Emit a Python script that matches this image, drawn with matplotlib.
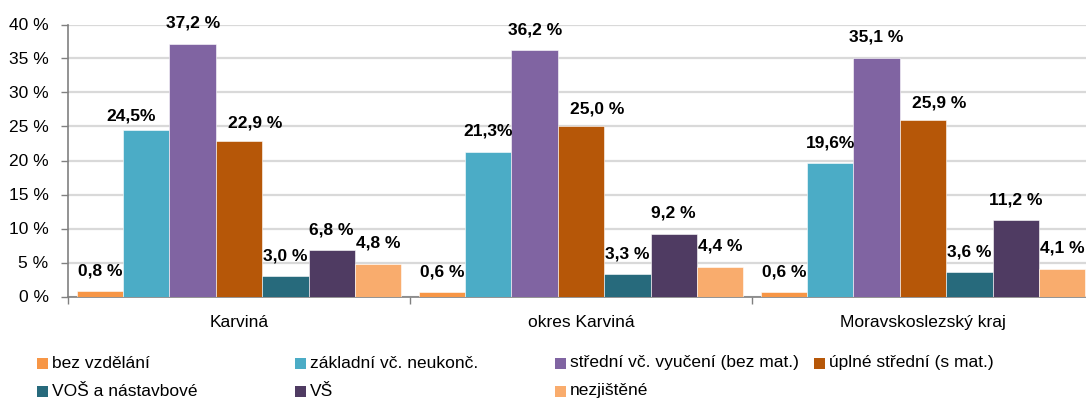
import matplotlib
matplotlib.use("Agg")
import matplotlib.pyplot as plt
from matplotlib.patches import Rectangle

plt.rcParams['font.family'] = ['Liberation Sans', 'DejaVu Sans']

# data
categories = ["Karviná", "okres Karviná", "Moravskoslezský kraj"]
series_names = ["bez vzdělání", "základní vč. neukonč.", "střední vč. vyučení (bez mat.)",
                "úplné střední (s mat.)", "VOŠ a nástavbové", "VŠ", "nezjištěné"]
values = [
    [0.8, 24.5, 37.2, 22.9, 3.0, 6.8, 4.8],
    [0.6, 21.3, 36.2, 25.0, 3.3, 9.2, 4.4],
    [0.6, 19.6, 35.1, 25.9, 3.6, 11.2, 4.1],
]
value_labels = [
    ["0,8 %", "24,5%", "37,2 %", "22,9 %", "3,0 %", "6,8 %", "4,8 %"],
    ["0,6 %", "21,3%", "36,2 %", "25,0 %", "3,3 %", "9,2 %", "4,4 %"],
    ["0,6 %", "19,6%", "35,1 %", "25,9 %", "3,6 %", "11,2 %", "4,1 %"],
]
yticks = [0, 5, 10, 15, 20, 25, 30, 35, 40]

colors = ["#F79646", "#4BACC6", "#8064A2", "#B65708", "#276A7C", "#4F3B62", "#F9AC6D"]

W, H = 1086, 401
fig = plt.figure(figsize=(W / 100, H / 100), dpi=100)
# axes extends slightly past right edge (chart is cropped in the source)
ax = fig.add_axes([68 / W, (H - 296.5) / H, 1026 / W, 272 / H])

bw = 0.1355
n = len(series_names)
for s in range(n):
    xs = [g + (s - (n - 1) / 2) * bw for g in range(len(categories))]
    ys = [values[g][s] for g in range(len(categories))]
    ax.bar(xs, ys, width=bw, color=colors[s], edgecolor="#FFFFFF", linewidth=0.4, zorder=3)

# label nudges in points (labels were hand-placed in the original)
nudge = {(0, 1): (-11, -5)}
for g in range(len(categories)):
    nudge[(g, 3)] = (12, -2)

for g in range(len(categories)):
    for s in range(n):
        x = g + (s - (n - 1) / 2) * bw
        dx, dy = nudge.get((g, s), (0, 0))
        ax.annotate(value_labels[g][s], (x, values[g][s]),
                    xytext=(dx, 11.5 + dy), textcoords="offset points",
                    ha="center", va="baseline", fontsize=12.5, fontweight="bold",
                    color="black", zorder=5)

ax.set_xlim(-0.5, 2.5)
ax.set_ylim(0, 40)
ax.set_yticks(yticks)
ax.set_yticklabels([f"{t} %" for t in yticks], fontsize=12.5)
ax.yaxis.grid(True, color="#D9D9D9", linewidth=1.6, zorder=0)
ax.set_axisbelow(True)

ax.set_xticks([-0.5, 0.5, 1.5, 2.5])
ax.set_xticklabels([])
ax.set_xticks([0, 1, 2], minor=True)
ax.set_xticklabels(categories, minor=True, fontsize=12.5)
ax.tick_params(axis="x", which="minor", length=0, pad=13)
ax.tick_params(axis="x", which="major", length=5, color="#808080", width=1)
ax.tick_params(axis="y", length=5, color="#808080", width=1, pad=9)

for side in ["top", "right"]:
    ax.spines[side].set_visible(False)
ax.spines["left"].set_color("#808080")
ax.spines["bottom"].set_color("#808080")
ax.spines["left"].set_linewidth(1.2)
ax.spines["bottom"].set_linewidth(1.2)

# legend: 4 columns, 2 rows, placed manually
col_x = [37, 295, 555, 814]
row_y = [363, 391]
for s in range(n):
    cx = col_x[s % 4]
    cy = row_y[s // 4]
    fig.patches.append(Rectangle((cx / W, (H - cy - 5.5) / H), 11 / W, 11 / H,
                                 transform=fig.transFigure, facecolor=colors[s],
                                 edgecolor="none"))
    fig.text((cx + 15) / W, (H - cy) / H, series_names[s], fontsize=12.5,
             va="center", ha="left")

fig.savefig("out.png", dpi=100)
